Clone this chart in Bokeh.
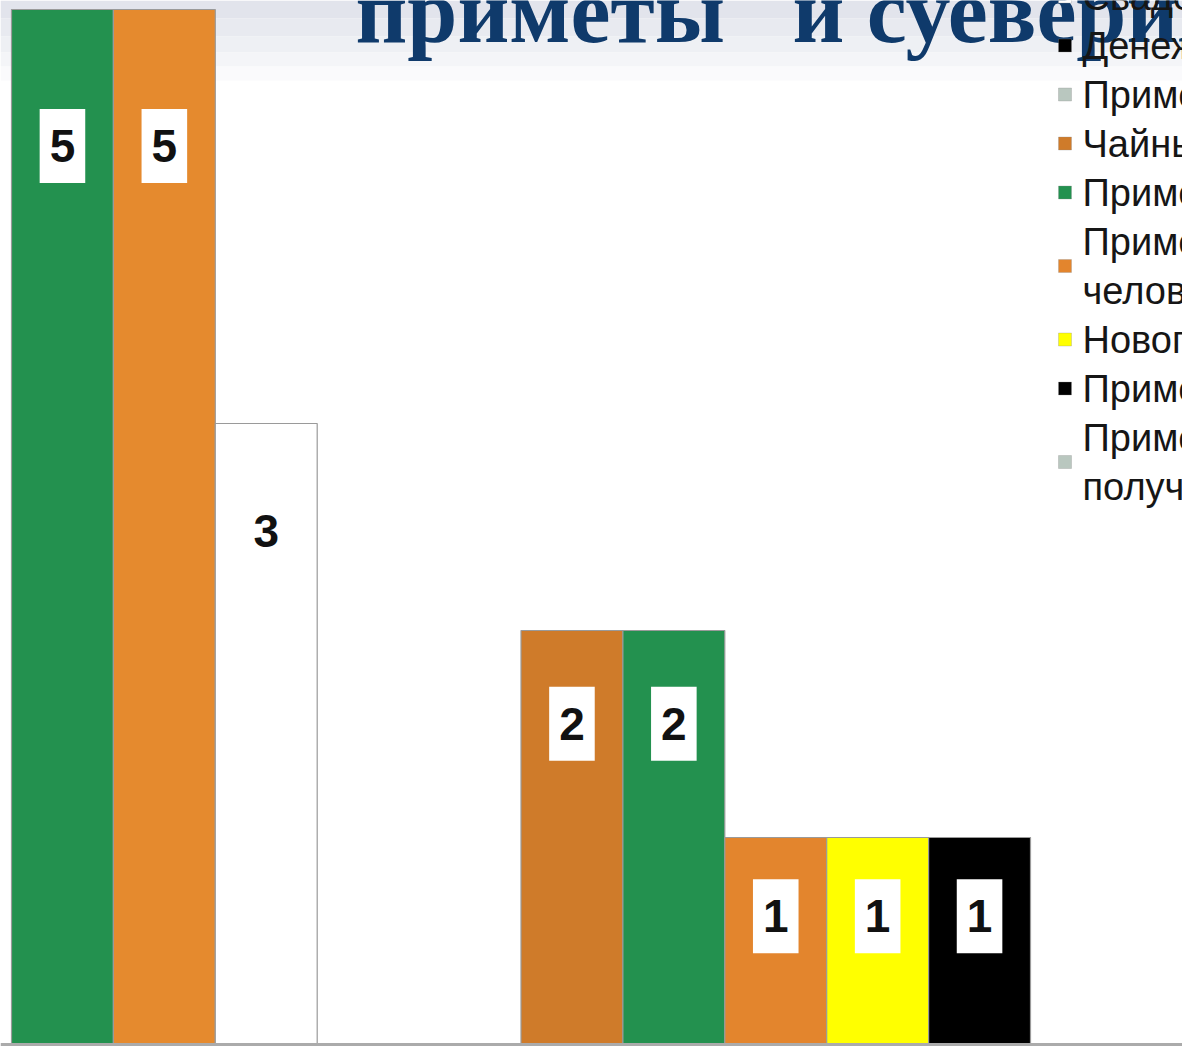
from bokeh.plotting import figure
from bokeh.models import ColumnDataSource, Label, Span, BoxAnnotation
from bokeh.core.properties import value
from bokeh.embed import file_html
from bokeh.resources import INLINE

# ---- data ----
series = [
    "Приметы о погоде",
    "Приметы о животных",
    "Свадебные приметы",
    "Денежные приметы",
    "Приметы на удачу",
    "Чайные приметы",
    "Приметы о здоровье",
    "Приметы, связанные с\nчеловеком",
    "Новогодние приметы",
    "Приметы о доме",
    "Приметы, связанные с\nполучением подарков",
]
counts = [5, 5, 3, 0, 0, 2, 2, 1, 1, 1, 0]
colors = ["#23914f", "#e58a2e", "#ffffff", "#000000", "#b9c7bf",
          "#cf7b2a", "#23914f", "#e3852d", "#ffff00", "#000000", "#b9c7bf"]
title_text = "приметы\u00a0\u00a0\u00a0и суеверия"

W, H = 1182, 1048
px_per_unit = 207.0
zero_px = 1044
bar_px = 101.9

pos = list(range(len(series)))
src = ColumnDataSource(dict(x=pos, top=counts, color=colors))

x0 = -0.5 - 11 / bar_px
p = figure(width=W, height=H, x_range=(x0, x0 + W / bar_px),
           y_range=(-(H - zero_px) / px_per_unit, zero_px / px_per_unit),
           toolbar_location=None, output_backend="svg",
           x_axis_location=None, y_axis_location=None, min_border=0)
p.grid.visible = False
p.outline_line_color = None
p.background_fill_color = "white"
p.border_fill_color = "white"

# slide background: light band at the top
for top, bot, col in [(0, 18, "#e2e4ec"), (18, 36, "#e8eaf0"), (36, 52, "#eef0f4"),
                      (52, 66, "#f4f5f8"), (66, 80, "#fafafc")]:
    p.add_layout(BoxAnnotation(top=H - top, bottom=H - bot, top_units="screen",
                               bottom_units="screen", fill_color=col, fill_alpha=1.0,
                               line_color=None, level="underlay"))

p.vbar(x="x", top="top", width=1.0, bottom=0, source=src,
       fill_color="color", line_color="#9a9a9a", line_width=1.2)

# data labels
lab_x = [x for x, v in zip(pos, counts) if v > 0]
lab_v = [v for v in counts if v > 0]
lab_y = [0.93 * v - 0.31 for v in lab_v]
lsrc = ColumnDataSource(dict(x=lab_x, y=lab_y, t=[str(v) for v in lab_v]))
p.text(x="x", y="y", text="t", source=lsrc, text_align="center",
       text_baseline="middle", text_font=value("Liberation Sans"),
       text_font_style="bold", text_font_size="46px", text_color="#111111",
       background_fill_color="white", padding=(10, 21))

p.add_layout(Span(location=0, dimension="width", line_color="#ababab", line_width=3))

# title (cropped slide heading)
p.add_layout(Label(x=355, y=H - 11, x_units="screen", y_units="screen",
                   text=title_text, text_font="Liberation Serif", text_font_style="bold",
                   text_font_size="90px", text_color="#0f3a6b",
                   text_baseline="alphabetic"))

# legend (cropped at the right and top edge of the slide)
line_px = 49
first_center = 45 - 3 * line_px
cur = first_center - line_px / 2
for name, col in zip(series, colors):
    lines = name.split("\n")
    h = line_px * len(lines)
    mid = cur + h / 2
    p.add_layout(BoxAnnotation(left=1058, right=1071, top=H - (mid - 6.5), bottom=H - (mid + 6.5),
                               left_units="screen", right_units="screen",
                               top_units="screen", bottom_units="screen",
                               fill_color=col, fill_alpha=1.0,
                               line_color="#8c8c8c", line_width=1))
    for k, ln in enumerate(lines):
        c = cur + line_px / 2 + k * line_px
        p.add_layout(Label(x=1082, y=H - c, x_units="screen", y_units="screen",
                           text=ln, text_font="Liberation Sans", text_font_size="38px",
                           text_color="#161616", text_baseline="middle"))
    cur += h

open("out.html", "w").write(file_html(p, INLINE))
